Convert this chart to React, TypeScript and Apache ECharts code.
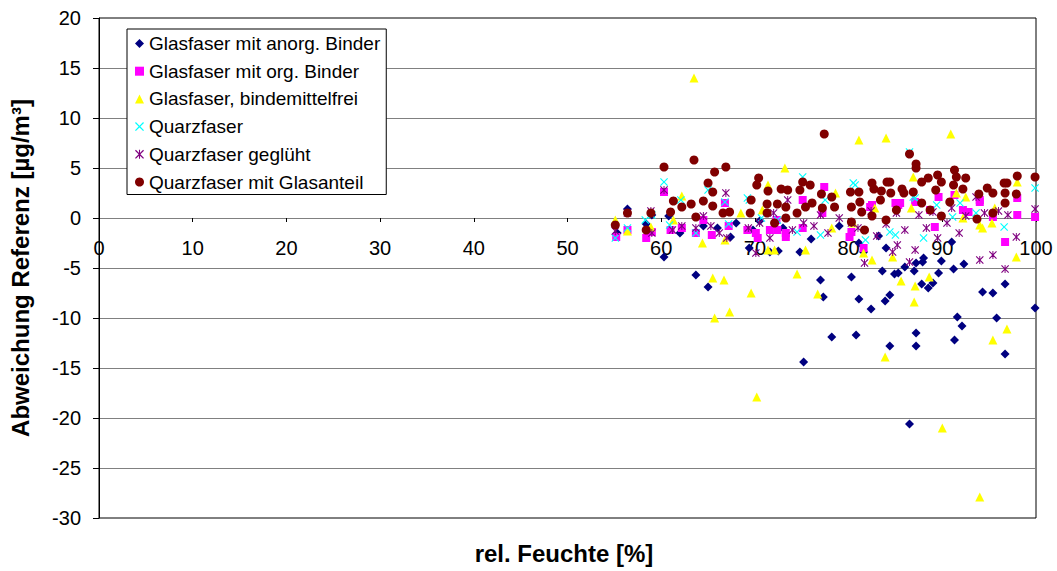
import React, { useEffect, useRef } from 'react';
import * as echarts from 'echarts';

const FONT = '"Liberation Sans", Arial, sans-serif';

const seriesNames = [
  'Glasfaser mit anorg. Binder',
  'Glasfaser mit org. Binder',
  'Glasfaser, bindemittelfrei',
  'Quarzfaser',
  'Quarzfaser geglüht',
  'Quarzfaser mit Glasanteil',
];

const xTitle = 'rel. Feuchte [%]';
const yTitle = 'Abweichung Referenz [µg/m³]';

const anorg: [number, number][] = [
  [55.3, -1.5], [56.4, 0.9], [58.4, -0.6], [59.0, 0.3], [60.3, -3.9], [60.8, 0.2], [62.0, -1.5],
  [63.7, -5.7], [64.5, -0.8], [65.0, -6.9], [66.0, -1.0], [67.4, -1.9], [68.0, -0.5], [69.4, -3.0],
  [69.8, -1.2], [70.5, -0.3], [71.6, -3.4], [72.5, -3.3], [73.0, -1.0], [74.8, -3.4], [75.2, -14.4],
  [76.0, -2.1], [77.0, -6.2], [77.3, -7.9], [78.2, -11.9], [79.0, -0.8], [80.3, -5.9], [80.8, -11.7],
  [81.1, -8.1], [81.1, -2.5], [81.6, -3.4], [82.4, -9.1], [83.2, -1.8], [83.6, -5.3], [83.9, -8.3],
  [84.0, -3.0], [84.4, -7.7], [84.4, -12.8], [84.9, -5.6], [85.3, -5.5], [86.0, -4.9], [86.5, -20.6],
  [87.0, -5.3], [87.2, -4.5], [87.2, -11.5], [87.2, -12.8], [87.8, -6.6], [87.9, -4.4], [88.0, -4.0],
  [88.5, -7.0], [89.0, -6.5], [89.6, -5.5], [89.9, -4.3], [91.0, -2.4], [91.2, -5.1], [91.3, -12.2],
  [91.6, -9.9], [92.1, -10.8], [92.3, -4.6], [94.3, -7.4], [95.4, -7.5], [95.8, -10.0], [96.7, -6.6],
  [96.7, -13.6], [99.9, -9.0],
];

const orgBinder: [number, number][] = [
  [55.2, -1.9], [56.4, -1.2], [58.4, -2.0], [59.0, -1.4], [60.3, 2.6], [61.0, -1.2], [62.2, -1.0],
  [63.7, -1.5], [64.5, -0.2], [65.4, -1.7], [66.8, 1.5], [67.2, -0.8], [69.2, -1.2], [70.1, -1.5],
  [70.3, -2.0], [71.6, -1.2], [72.3, -0.2], [72.4, -1.2], [73.3, -1.5], [73.3, -1.9], [75.1, 1.8],
  [75.1, -1.0], [77.2, 0.5], [77.4, 3.1], [80.1, -1.9], [80.3, -1.4], [81.6, -3.0], [82.3, 1.1],
  [82.5, 1.3], [85.0, 1.5], [85.3, 1.3], [85.5, 1.5], [87.1, 1.6], [88.7, 0.8], [89.2, -0.9],
  [89.6, 2.1], [91.3, 2.3], [92.2, 0.8], [92.8, 0.6], [94.0, 1.6], [94.0, 1.8], [95.4, 0.1],
  [96.7, -2.4], [98.0, 2.0], [98.0, 0.3], [99.9, 0.1],
];

const bindemittelfrei: [number, number][] = [
  [55.1, -0.2], [56.4, -1.3], [58.9, -0.9], [61.3, -0.2], [62.2, 2.2], [63.5, 14.0], [64.4, -2.5],
  [65.5, -6.0], [65.7, -10.0], [66.7, -6.2], [66.8, -2.2], [67.3, -9.4], [68.5, 0.5], [69.6, -7.5],
  [70.2, -17.9], [70.8, 0.8], [71.4, 3.3], [71.4, -3.2], [72.1, -3.2], [73.2, 5.0], [74.5, -5.6],
  [75.4, -3.2], [76.7, -7.6], [78.2, -1.0], [78.6, 2.5], [80.5, -0.5], [81.1, 7.8], [81.6, -3.5],
  [82.5, -4.2], [82.8, 1.0], [83.9, -13.9], [84.0, 8.0], [84.7, -3.9], [85.6, -6.3], [86.7, 1.0],
  [86.9, 4.1], [87.0, -8.4], [87.1, -6.8], [88.6, -5.9], [90.0, -21.0], [90.9, 8.4], [91.5, 2.5],
  [92.2, 0.0], [92.5, 2.1], [94.0, -27.9], [94.0, -0.7], [94.3, -1.0], [95.3, -0.5], [95.4, -12.2],
  [95.6, 1.0], [96.9, -11.1], [97.9, -3.9], [98.0, 3.6],
];

const quarz: [number, number][] = [
  [55.1, -2.0], [56.4, -1.0], [58.3, -0.2], [59.0, 0.3], [60.3, 3.6], [60.9, -0.7], [62.1, 1.8],
  [63.7, -1.5], [65.0, 2.8], [66.8, 1.6], [67.2, -0.6], [69.2, 2.0], [69.4, 1.8], [70.7, 0.0],
  [72.4, -0.2], [74.5, -1.4], [75.1, 4.1], [77.0, -1.7], [77.5, 1.8], [80.5, 3.5], [80.7, 3.3],
  [81.8, -2.2], [84.4, -1.4], [85.0, -1.7], [86.5, 6.6], [86.9, 2.1], [87.1, 2.0], [88.0, -2.0],
  [89.4, 1.3], [91.1, 0.1], [91.9, 1.5], [93.6, 0.5], [96.6, -0.9], [99.9, 3.0],
];

const gegluht: [number, number][] = [
  [55.1, -1.3], [56.4, 0.5], [58.9, 0.7], [59.0, -1.5], [60.3, 2.8], [61.2, -1.2], [62.2, -0.8],
  [63.7, -1.0], [64.5, 0.2], [65.3, -0.8], [66.2, -1.5], [66.9, 2.5], [67.0, -2.0], [69.3, -1.0],
  [70.1, -3.5], [70.5, -0.5], [71.6, -2.0], [72.0, 0.5], [73.5, 1.8], [74.0, -1.2], [75.2, -0.5],
  [76.3, -0.8], [77.0, 0.3], [77.8, -1.5], [79.0, 0.0], [80.3, -0.5], [81.0, -1.0], [81.7, -4.5],
  [82.4, 0.7], [83.0, -1.8], [84.0, -0.6], [84.7, -3.4], [85.1, 0.5], [85.2, -2.7], [86.0, -1.2],
  [86.5, -4.4], [87.1, -3.2], [87.5, 0.3], [88.3, -1.0], [89.0, 0.6], [89.5, -2.0], [90.5, -0.5],
  [91.0, 1.0], [91.8, -1.5], [92.5, 0.2], [93.6, 2.1], [94.0, -4.2], [94.5, 0.5], [95.4, -3.7],
  [96.0, 0.7], [96.7, -5.1], [97.0, 0.3], [97.9, -1.9], [99.9, 0.9],
];

const glasanteil: [number, number][] = [
  [55.1, -0.7], [56.4, 0.5], [58.4, -1.2], [58.9, 0.5], [60.3, 5.1], [61.0, 0.6], [61.3, 1.7],
  [62.2, 1.1], [63.2, 1.4], [63.5, 5.8], [63.7, 0.1], [64.5, 1.7], [65.0, 3.5], [65.5, 2.6],
  [65.5, 1.2], [65.7, 4.6], [66.6, 0.5], [66.9, 5.1], [67.3, 0.6], [69.5, 0.5], [69.6, 1.8],
  [70.2, 3.3], [70.4, 4.0], [71.3, 1.4], [71.3, 0.5], [71.4, 2.7], [72.1, -0.5], [72.4, 1.4],
  [72.8, 2.9], [73.3, 1.1], [73.3, 0.0], [73.5, 2.8], [74.5, 0.5], [74.8, 2.8], [75.1, 3.6],
  [75.4, 1.1], [75.9, 3.3], [76.1, 1.5], [77.1, 2.4], [77.2, 1.0], [77.4, 8.4], [78.2, 2.1],
  [78.5, 1.1], [80.2, 2.6], [80.3, 1.1], [80.3, -0.4], [81.1, 2.6], [81.2, 1.6], [81.4, 0.6],
  [81.7, -1.2], [82.5, 3.5], [82.5, 0.2], [82.7, 2.9], [83.4, 1.8], [83.5, 2.7], [84.0, -0.2],
  [84.1, 3.6], [84.4, 3.6], [84.5, 2.5], [85.1, 0.8], [85.7, 2.9], [85.9, 2.5], [86.5, 6.4],
  [86.9, 2.6], [87.2, 5.4], [87.2, 5.0], [87.8, 3.6], [87.8, 1.5], [88.5, 4.0], [88.7, 0.8],
  [89.3, 2.8], [89.5, 4.3], [89.9, 3.6], [89.9, 0.2], [90.8, 1.6], [91.2, 3.3], [91.3, 4.8],
  [91.5, 4.1], [92.2, 2.9], [92.5, 4.0], [93.7, -0.1], [93.9, 2.4], [94.8, 3.0], [95.4, 2.5],
  [95.4, 0.5], [96.6, 3.5], [96.7, 2.5], [96.7, 1.5], [96.9, 3.5], [97.9, 2.4], [98.0, 4.2],
  [99.9, 4.1],
];

const X_PATH = 'path://M0,1L1,0L5,4L9,0L10,1L6,5L10,9L9,10L5,6L1,10L0,9L4,5Z';
const STAR_PATH =
  'path://M0,1L1,0L5,4L9,0L10,1L6,5L10,9L9,10L5,6L1,10L0,9L4,5Z M4.4,0L5.6,0L5.6,10L4.4,10Z';

// y-range of the plot; the x axis crosses at y = 0
const Y_MIN = -30;
const Y_MAX = 20;
const PLOT_TOP = 18;
const PLOT_HEIGHT = 500;

export default function App() {
  const ref = useRef<HTMLDivElement>(null);
  useEffect(() => {
    const chart = echarts.init(ref.current!, undefined, { renderer: 'svg' });
    const mk = (name: string, data: [number, number][], symbol: string, size: number, color: string) => ({
      name,
      type: 'scatter',
      data,
      symbol,
      symbolSize: size,
      itemStyle: { color, opacity: 1 },
      emphasis: { disabled: true },
    });
    // shift the x axis up from the plot bottom to the y = 0 line
    const zeroOffset = -(PLOT_HEIGHT * (0 - Y_MIN)) / (Y_MAX - Y_MIN);
    chart.setOption({
      animation: false,
      backgroundColor: '#fff',
      textStyle: { fontFamily: FONT },
      grid: {
        left: 92,
        top: PLOT_TOP,
        width: 944,
        height: PLOT_HEIGHT,
        show: true,
        borderColor: '#000',
        borderWidth: 1,
        backgroundColor: 'transparent',
      },
      legend: {
        orient: 'vertical',
        left: 127,
        top: 29,
        padding: [5, 6, 3, 8],
        itemGap: 8.7,
        itemWidth: 9,
        itemHeight: 9,
        backgroundColor: '#fff',
        borderColor: '#000',
        borderWidth: 1,
        textStyle: { fontSize: 19, color: '#000', fontFamily: FONT, lineHeight: 18 },
        data: seriesNames,
      },
      xAxis: {
        type: 'value',
        min: 0,
        max: 100,
        interval: 10,
        position: 'bottom',
        offset: zeroOffset,
        axisLine: { onZero: false, lineStyle: { color: '#808080', width: 1 } },
        axisTick: { show: true, length: 4, lineStyle: { color: '#000' } },
        axisLabel: { fontSize: 20, color: '#000', margin: 20, fontFamily: FONT },
        splitLine: { show: false },
      },
      yAxis: {
        type: 'value',
        min: Y_MIN,
        max: Y_MAX,
        interval: 5,
        name: yTitle,
        nameLocation: 'middle',
        nameGap: 67,
        nameTextStyle: { fontSize: 24, fontWeight: 'bold', color: '#000', fontFamily: FONT },
        axisLine: { show: true, onZero: false, lineStyle: { color: '#000', width: 1 } },
        axisTick: { show: true, length: 6, lineStyle: { color: '#000' } },
        axisLabel: { fontSize: 20, color: '#000', margin: 18, fontFamily: FONT },
        splitLine: { show: true, showMinLine: false, showMaxLine: false, lineStyle: { color: '#808080', width: 1 } },
      },
      graphic: [
        {
          type: 'text',
          x: 564,
          y: 553,
          style: {
            text: xTitle,
            align: 'center',
            verticalAlign: 'middle',
            fontSize: 24,
            fontWeight: 'bold',
            fontFamily: FONT,
            fill: '#000',
          },
        },
      ],
      series: [
        mk(seriesNames[0], anorg, 'diamond', 9, '#000080'),
        mk(seriesNames[1], orgBinder, 'rect', 8, '#FF00FF'),
        mk(seriesNames[2], bindemittelfrei, 'triangle', 9, '#FFFF00'),
        mk(seriesNames[3], quarz, X_PATH, 8, '#00FFFF'),
        mk(seriesNames[4], gegluht, STAR_PATH, 8, '#800080'),
        mk(seriesNames[5], glasanteil, 'circle', 9, '#800000'),
      ],
    });
    return () => chart.dispose();
  }, []);
  return <div ref={ref} style={{ position: 'absolute', left: 0, top: 0, width: 1057, height: 571 }} />;
}
